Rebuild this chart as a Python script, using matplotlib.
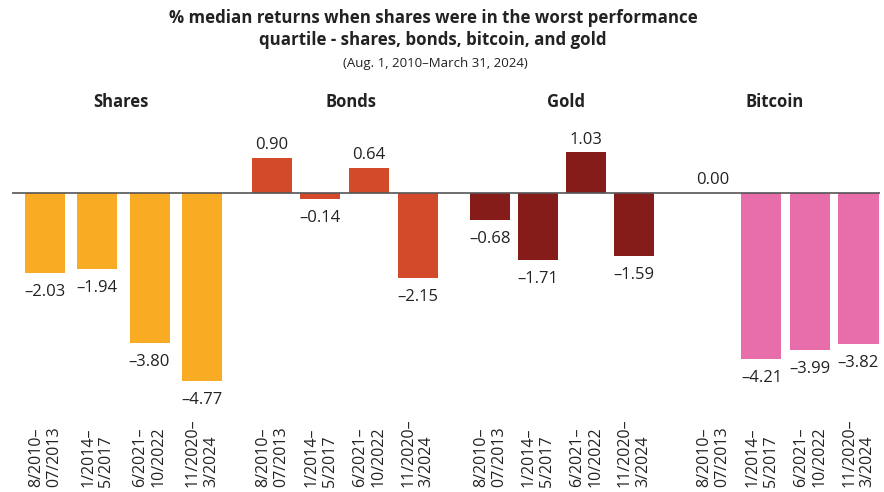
import matplotlib.pyplot as plt
from matplotlib import transforms

plt.rcParams['font.family'] = ['Open Sans', 'DejaVu Sans']

# data
groups = ['Shares', 'Bonds', 'Gold', 'Bitcoin']
periods = ['8/2010–\n07/2013', '1/2014–\n5/2017', '6/2021–\n10/2022', '11/2020–\n3/2024']
shares = [-2.03, -1.94, -3.80, -4.77]
bonds = [0.90, -0.14, 0.64, -2.15]
gold = [-0.68, -1.71, 1.03, -1.59]
bitcoin = [0.00, -4.21, -3.99, -3.82]
colors = ['#F9AB23', '#D24A29', '#861C1A', '#E76DAB']

series = [shares, bonds, gold, bitcoin]

# layout: 1 x-unit = 50 px, origin at first bar
group_start = [0.0, 4.54, 8.9, 13.36]
group_step = [1.045, 0.97, 0.96, 0.97]
title_x = [1.52, 6.12, 10.42, 14.6]

fig = plt.figure(figsize=(8.84, 4.92), dpi=100)
# 1 y-unit ~ 39.4 px, zero line at 193 px from top
ax = fig.add_axes([12 / 884, 1 - 400 / 492, 868 / 884, 280 / 492])
ax.set_xlim(-0.66, 16.7)
ax.set_ylim(-207 / 39.4, 73 / 39.4)
ax.axis('off')

ax.axhline(0, color='#555555', lw=1.2, zorder=3)

label_tr = transforms.blended_transform_factory(ax.transData, fig.transFigure)

for g, (name, vals, col) in enumerate(zip(groups, series, colors)):
    xs = [group_start[g] + i * group_step[g] for i in range(len(vals))]
    ax.bar(xs, vals, width=0.8, color=col, zorder=2)
    ax.text(title_x[g], 2.31, name, ha='center', va='center',
            fontsize=12, fontweight='bold', color='#222222')
    for x, v in zip(xs, vals):
        txt = f'{v:.2f}'.replace('-', '–')
        if v >= 0:
            ax.text(x, v + 0.12, txt, ha='center', va='bottom', fontsize=12, color='#222222')
        else:
            ax.text(x, v - 0.28, txt, ha='center', va='top', fontsize=12, color='#222222')
    for x, p in zip(xs, periods):
        ax.text(x, 5 / 492, p, transform=label_tr, rotation=90, ha='center', va='bottom',
                multialignment='left', fontsize=11.5, color='#222222', linespacing=1.2)

fig.text(433 / 884, 1 - 29 / 492, '% median returns when shares were in the worst performance\nquartile - shares, bonds, bitcoin, and gold',
         ha='center', va='center', fontsize=12.2, fontweight='bold', color='#222222', linespacing=1.25)
fig.text(435 / 884, 1 - 63 / 492, '(Aug. 1, 2010–March 31, 2024)', ha='center', va='center',
         fontsize=9.5, color='#222222')

fig.savefig('out.png', dpi=100)
